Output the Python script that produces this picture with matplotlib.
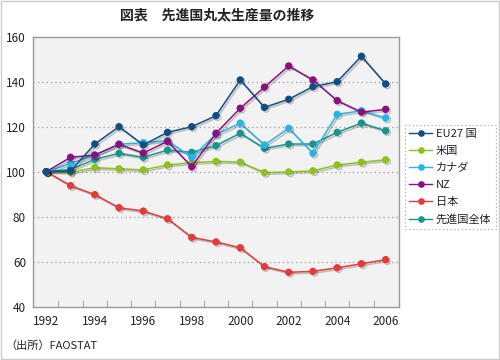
import matplotlib
matplotlib.use("Agg")
import matplotlib.pyplot as plt
import matplotlib.patheffects as pe
from matplotlib.patches import Rectangle
from matplotlib.lines import Line2D

plt.rcParams['font.family'] = ['Noto Sans CJK JP', 'DejaVu Sans']

years = list(range(1992, 2007))
eu27 = [100, 100.3, 112.3, 120, 111.9, 117.5, 120, 124.9, 140.8, 128.6, 132.2, 137.8, 140, 151.3, 139]
usa = [100, 99.7, 101.8, 101.3, 100.8, 103, 104, 104.6, 104.3, 99.6, 99.9, 100.4, 103, 104.2, 105.3]
canada = [100, 103.7, 107.4, 112.2, 112.9, 113.8, 106.4, 116.6, 121.6, 111.9, 119.3, 108.2, 125.5, 127.1, 123.9]
nz = [100, 106.4, 107.4, 112.2, 108.3, 113.5, 102.2, 117.1, 128.2, 137.6, 147, 140.8, 131.6, 126.5, 127.7]
japan = [100, 93.8, 89.8, 84, 82.5, 79.1, 70.8, 68.8, 66.2, 57.8, 55.3, 55.7, 57.3, 59.1, 60.9]
total = [100, 101, 105.5, 108.2, 106.4, 109.6, 108.6, 111.6, 117.1, 110.4, 112.3, 112.3, 117.5, 121.6, 118.2]

labels = ['EU27 国', '米国', 'カナダ', 'NZ', '日本', '先進国全体']
series = [eu27, usa, canada, nz, japan, total]
colors = ['#114e82', '#8cc21e', '#27b4e6', '#8a0f80', '#e43a3a', '#17948f']
zorders = [8, 4, 6, 7, 3, 5]

fig = plt.figure(figsize=(5, 3.6), dpi=100)
fig.patch.set_facecolor('white')
ax = fig.add_axes([0.066, 0.148, 0.732, 0.75])
ax.set_facecolor('#f2f2f2')

shadow = [pe.SimpleLineShadow(offset=(1.2, -1.2), alpha=0.22, shadow_color='black'), pe.Normal()]
handles = []
for lab, vals, c, z in zip(labels, series, colors, zorders):
    ax.plot(years, vals, color=c, lw=1.1, marker='o', ms=4.3, mec=c, mfc=c,
            zorder=z, path_effects=shadow, label=lab)
    handles.append(Line2D([0], [0], color=c, lw=1.0, marker='o', ms=3.8, mec=c, mfc=c))

ax.set_xlim(1991.45, 2006.55)
ax.set_ylim(40, 160)
ax.set_yticks([40, 60, 80, 100, 120, 140, 160])
ax.set_xticks(list(range(1992, 2007, 2)))
ax.set_xticks([y + 0.5 for y in range(1992, 2006)], minor=True)
ax.tick_params(axis='x', which='major', length=0, pad=6, labelsize=8.5, colors='#222222')
ax.tick_params(axis='x', which='minor', direction='in', length=5, color='#999999')
ax.tick_params(axis='y', length=0, pad=5, labelsize=8.5, colors='#222222')
for yv in [60, 80, 100, 120, 140]:
    ax.axhline(yv, color='#999999', lw=0.9, ls=(0, (1, 2.5)), zorder=1)
for s in ax.spines.values():
    s.set_color('#9a9a9a')
    s.set_linewidth(1)

leg = fig.legend(handles, labels, loc='upper left', bbox_to_anchor=(0.81, 0.653),
                 bbox_transform=fig.transFigure, borderaxespad=0, fontsize=8,
                 frameon=True, fancybox=False, handlelength=2.0, handletextpad=0.35,
                 labelspacing=0.62, borderpad=0.4)
fr = leg.get_frame()
fr.set_edgecolor('#999999')
fr.set_linestyle((0, (1, 2)))
fr.set_linewidth(0.9)
fr.set_facecolor('white')
for t in leg.get_texts():
    t.set_color('#222222')

fig.text(0.434, 0.958, '図表\u3000先進国丸太生産量の推移', ha='center', va='center',
         fontsize=10, fontweight='bold', color='#222222')
fig.text(0.01, 0.04, '（出所）FAOSTAT', ha='left', va='center', fontsize=8, color='#222222')

fig.add_artist(Rectangle((0.001, 0.0015), 0.997, 0.996, transform=fig.transFigure,
                         fill=False, edgecolor='#cccccc', lw=1))

fig.savefig('out.png', dpi=100)
